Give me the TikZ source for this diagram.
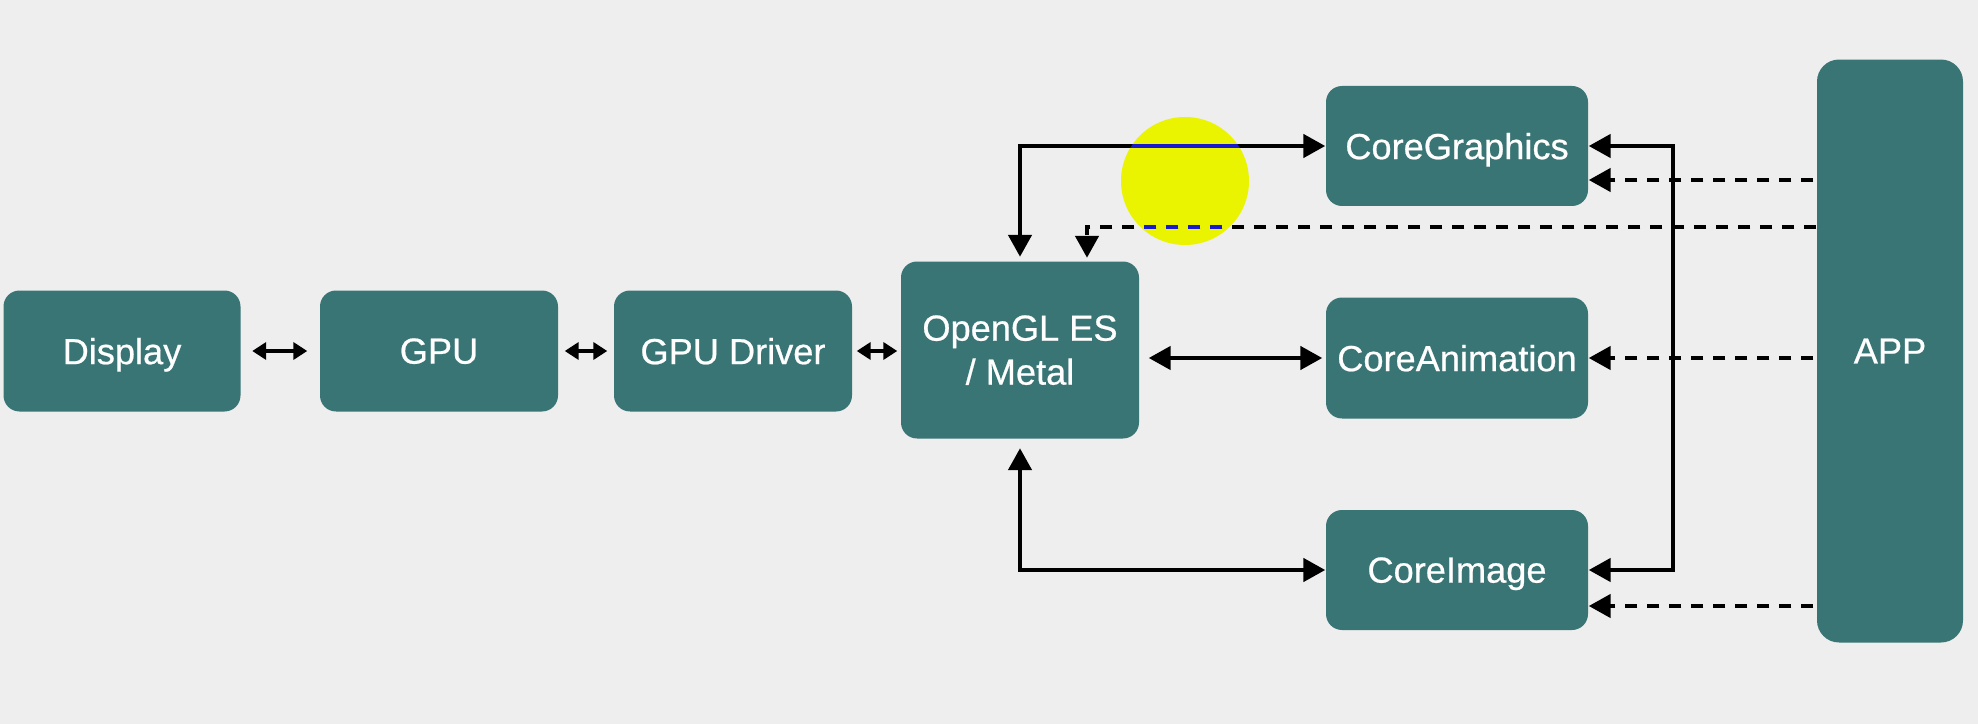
\documentclass[tikz,border=0pt]{standalone}
\usepackage{fontspec}
\setmainfont{Liberation Sans}
\newfontfamily\layerfont{Liberation Sans}[FakeBold=0.6]
\usetikzlibrary{arrows.meta,calc}

\definecolor{boxteal}{RGB}{58,117,118}
\definecolor{bggray}{RGB}{238,238,238}
\definecolor{hiyellow}{RGB}{234,243,0}
\definecolor{hiblue}{RGB}{24,24,205}

\tikzset{
  layer/.style={fill=boxteal,text=white,rounded corners=1.6mm,align=center,inner sep=0pt,
    text depth=0pt,font=\layerfont\fontsize{10.3}{12.5}\selectfont},
  link/.style={line width=1.3pt,{Triangle[length=2.2mm,width=2.3mm]}-{Triangle[length=2.2mm,width=2.3mm]}},
  smalllink/.style={line width=1pt,{Triangle[length=1.4mm,width=1.7mm]}-{Triangle[length=1.4mm,width=1.7mm]}},
  call/.style={line width=1.3pt,dash pattern=on 1.2mm off 1.0mm,-{Triangle[length=2.2mm,width=2.3mm]}}
}

\begin{document}
\begin{tikzpicture}[x=0.1mm,y=-0.1mm]
  \fill[bggray] (0,0) rectangle (1978,724);
  \useasboundingbox (0,0) rectangle (1978,724);

  \node[layer,minimum width=23.7mm,minimum height=12.1mm] (disp) at (122,351) {Display};
  \node[layer,minimum width=23.8mm,minimum height=12.1mm] (gpu) at (439,351) {GPU};
  \node[layer,minimum width=23.8mm,minimum height=12.1mm] (drv) at (733,351) {GPU Driver};
  \node[layer,minimum width=23.8mm,minimum height=17.7mm] (ogl) at (1020,350) {OpenGL ES\\/ Metal};
  \node[layer,minimum width=26.2mm,minimum height=12.0mm] (cg) at (1457,146) {CoreGraphics};
  \node[layer,minimum width=26.2mm,minimum height=12.1mm] (ca) at (1457,358) {CoreAnimation};
  \node[layer,minimum width=26.2mm,minimum height=12.0mm] (ci) at (1457,570) {CoreImage};
  \node[layer,minimum width=14.6mm,minimum height=58.3mm,rounded corners=2.2mm] (app) at (1890,351) {APP};

  % cursor highlight
  \fill[hiyellow] (1185,181) circle[radius=6.4mm];

  \coordinate (bus) at (1673,351);
  \coordinate (glturn) at ($(ogl.north)+(67,-34)$);
  \coordinate (cgapp) at ($(cg.east)+(0,34)$);
  \coordinate (ciapp) at ($(ci.east)+(0,36)$);

  \draw[smalllink,shorten <=1.1mm,shorten >=1.2mm] (disp.east |- gpu.west) -- (gpu.west);
  \draw[smalllink,shorten <=0.6mm,shorten >=0.6mm] (gpu.east) -- (drv.west);
  \draw[smalllink,shorten <=0.4mm,shorten >=0.3mm] (drv.east) -- (ogl.west |- drv.east);

  \draw[link,shorten <=0.4mm] (ogl.north) |- (cg.west);
  \draw[link,shorten <=0.9mm,shorten >=0.3mm] (ogl.east |- ca.west) -- (ca.west);
  \draw[link,shorten <=0.9mm] (ogl.south) |- (ci.west);
  \draw[link] (cg.east) -| (bus) |- (ci.east);

  \draw[call,shorten >=0.3mm] (app.west |- glturn) -- (glturn) -- (ogl.north -| glturn);
  \draw[call,shorten <=0.3mm] (app.west |- cgapp) -- (cgapp);
  \draw[call,shorten <=0.3mm] (app.west |- ca.east) -- (ca.east);
  \draw[call,shorten <=0.3mm] (app.west |- ciapp) -- (ciapp);

  \begin{scope}
    \clip (1185,181) circle[radius=6.4mm];
    \draw[hiblue,line width=1.1pt] (ogl.north) |- (cg.west);
    \draw[hiblue,line width=1.1pt,dash pattern=on 1.2mm off 1.0mm] (app.west |- glturn) -- (glturn);
  \end{scope}
\end{tikzpicture}
\end{document}
